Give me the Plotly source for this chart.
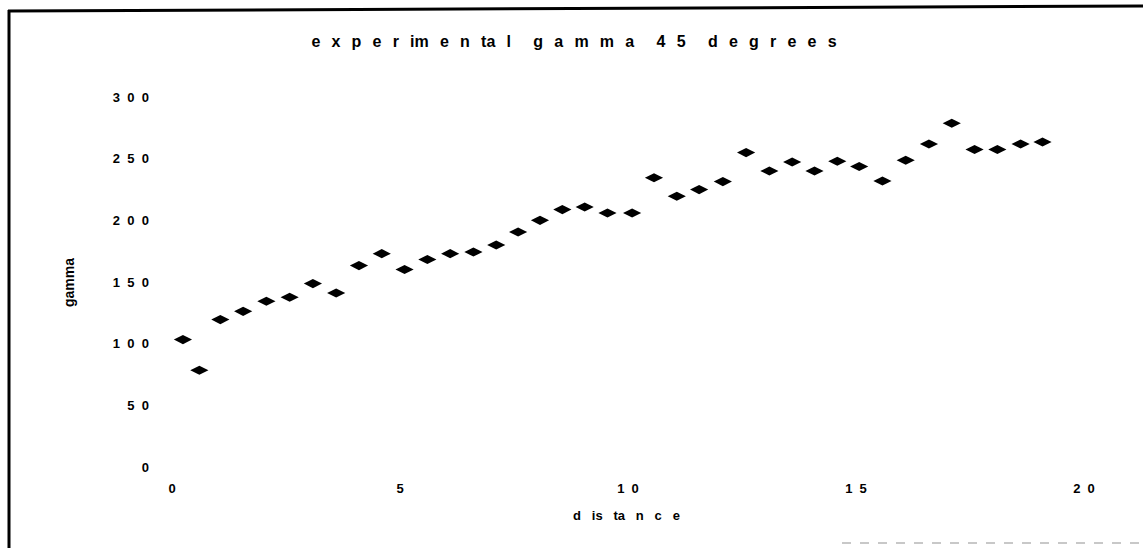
import plotly.graph_objects as go

# Measured gamma against distance (45 degree run)
distance = [0.24, 0.60, 1.06, 1.56, 2.07, 2.58, 3.09, 3.60, 4.10, 4.60,
            5.10, 5.60, 6.10, 6.61, 7.11, 7.59, 8.07, 8.56, 9.05, 9.55,
            10.09, 10.57, 11.07, 11.56, 12.08, 12.59, 13.10, 13.60, 14.09, 14.59,
            15.07, 15.58, 16.09, 16.60, 17.10, 17.60, 18.10, 18.61, 19.09]
gamma = [103.3, 78.4, 119.5, 126.2, 134.4, 137.6, 148.7, 141.1, 163.3, 173.0,
         160.1, 168.2, 173.0, 174.3, 180.0, 190.5, 200.0, 208.7, 210.8, 205.9,
         205.9, 234.5, 219.5, 224.9, 231.4, 254.9, 240.0, 247.3, 240.0, 247.9,
         243.6, 231.9, 248.7, 261.9, 278.7, 257.4, 257.4, 261.9, 263.5]

x_tick_values = [0, 5, 10, 15, 20]
x_tick_labels = ["0", "5", "10", "15", "20"]
y_tick_values = [0, 50, 100, 150, 200, 250, 300]
y_tick_labels = ["0", "50", "100", "150", "200", "250", "300"]

title_groups = ["e", "x", "p", "e", "r", "im", "e", "n", "ta", "l", "", "g", "a", "m", "m", "a", "",
                "4", "5", "", "d", "e", "g", "r", "e", "e", "s"]
x_title_groups = ["d", "is", "ta", "n", "c", "e"]
y_title = "gamma"

NB = "\u00a0"
TITLE_GAP = "\u2002\u2009"


def spaced(parts, gap):
    return gap.join(parts)


W, H = 1143, 548
L, R, T, B = 172, 59, 97, 81
PW, PH = W - L - R, H - T - B


def px(x):
    return (x - L) / PW


def py(y):
    return (H - B - y) / PH


FONT = "Liberation Sans, Arial, sans-serif"

fig = go.Figure()
fig.add_trace(go.Scatter(
    x=distance, y=gamma, mode="markers",
    marker=dict(symbol="diamond-wide", size=13, color="black",
                line=dict(width=0)),
    showlegend=False,
))

fig.update_layout(
    width=W, height=H,
    margin=dict(l=L, r=R, t=T, b=B),
    paper_bgcolor="white", plot_bgcolor="white",
    font=dict(family=FONT, color="black", size=13, weight="bold"),
    title=dict(text=spaced(title_groups, TITLE_GAP), x=574 / W, xref="container",
               y=1 - 41.5 / H, yref="container", xanchor="center", yanchor="middle",
               font=dict(family=FONT, size=16, weight="bold", color="black")),
    xaxis=dict(range=[0, 20], tickvals=x_tick_values,
               ticktext=[spaced(list(s), NB * 2) for s in x_tick_labels],
               showgrid=False, zeroline=False, showline=False, ticks="",
               ticklabelstandoff=12,
               tickfont=dict(family=FONT, size=13, weight="bold", color="black")),
    yaxis=dict(range=[0, 300], tickvals=y_tick_values,
               ticktext=[spaced(list(s), NB * 2) for s in y_tick_labels],
               showgrid=False, zeroline=False, showline=False, ticks="",
               ticklabelstandoff=22,
               tickfont=dict(family=FONT, size=13, weight="bold", color="black")),
    annotations=[
        dict(text=spaced(x_title_groups, NB * 3), xref="paper", yref="paper",
             x=px(626), y=py(515), xanchor="center", yanchor="middle",
             showarrow=False, font=dict(family=FONT, size=13, weight="bold")),
        dict(text=y_title, xref="paper", yref="paper", textangle=-90,
             x=px(69), y=py(283), xanchor="center", yanchor="middle",
             showarrow=False, font=dict(family=FONT, size=14, weight="bold")),
    ],
    shapes=[
        # outer frame: top and left edges
        dict(type="line", xref="paper", yref="paper", x0=px(8), y0=py(11),
             x1=px(1143), y1=py(6), line=dict(color="black", width=3)),
        dict(type="line", xref="paper", yref="paper", x0=px(9), y0=py(10),
             x1=px(9), y1=py(548), line=dict(color="black", width=3)),
        dict(type="line", xref="paper", yref="paper", x0=px(842), y0=py(543),
             x1=px(1143), y1=py(543), line=dict(color="#c8c8c8", width=2, dash="dash")),
    ],
)

fig.write_html("out.html")
